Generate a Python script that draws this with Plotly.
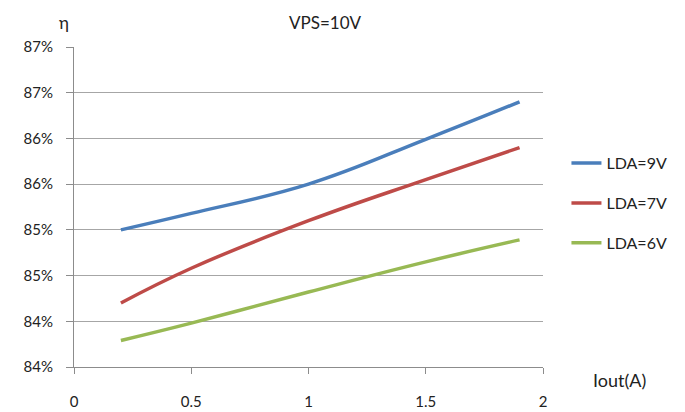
import plotly.graph_objects as go

iout = [0.2, 0.5, 1.0, 1.5, 1.9]
eff_9v = [85.00, 85.18, 85.50, 85.99, 86.40]
eff_7v = [84.20, 84.58, 85.10, 85.55, 85.90]
eff_6v = [83.79, 83.98, 84.32, 84.65, 84.89]

series_names = ["LDA=9V", "LDA=7V", "LDA=6V"]
series_vals = [eff_9v, eff_7v, eff_6v]
colors = ["#4a7ebb", "#be4b48", "#98b954"]

y_ticks = [83.5, 84.0, 84.5, 85.0, 85.5, 86.0, 86.5, 87.0]
y_ticktext = ["84%", "84%", "85%", "85%", "86%", "86%", "87%", "87%"]
x_ticks = [0, 0.5, 1, 1.5, 2]
x_ticktext = ["0", "0.5", "1", "1.5", "2"]

FONT = "Lato"
TXT = "#222222"

fig = go.Figure()
for name, vals, c in zip(series_names, series_vals, colors):
    fig.add_trace(go.Scatter(
        x=iout, y=vals, name=name, mode="lines",
        line=dict(color=c, width=3.5, shape="spline", smoothing=1.2),
        legendgroup=name,
    ))

fig.update_layout(
    width=677, height=404,
    margin=dict(l=66, r=142, t=39, b=45, autoexpand=False),
    paper_bgcolor="white", plot_bgcolor="white",
    font=dict(family=FONT, size=15, color=TXT),
    showlegend=True,
    legend=dict(
        x=1.05, y=0.69, xanchor="left", yanchor="top",
        font=dict(family=FONT, size=16, color=TXT),
        tracegroupgap=16, bgcolor="rgba(0,0,0,0)",
    ),
    xaxis=dict(
        range=[0, 2], tickvals=x_ticks, ticktext=x_ticktext,
        showgrid=False, zeroline=False, automargin=False,
        showline=True, linecolor="#8c8c8c", linewidth=1,
        ticks="outside", ticklen=6, tickcolor="#8c8c8c",
        ticklabelstandoff=15,
        tickfont=dict(family=FONT, size=15, color=TXT),
    ),
    yaxis=dict(
        range=[83.5, 87.0], tickvals=y_ticks, ticktext=y_ticktext,
        showgrid=True, gridcolor="#a6a6a6", gridwidth=1,
        zeroline=False, automargin=False,
        showline=True, linecolor="#8c8c8c", linewidth=1,
        ticks="outside", ticklen=7, tickcolor="#8c8c8c",
        ticklabelstandoff=10,
        tickfont=dict(family=FONT, size=15, color=TXT),
    ),
    annotations=[
        dict(text="VPS=10V", xref="paper", yref="paper", x=0.536, y=1.0,
             yshift=25, showarrow=False, xanchor="center", yanchor="middle",
             font=dict(family=FONT, size=17, color=TXT)),
        dict(text="η", xref="paper", yref="paper", x=-0.022, y=1.0,
             yshift=25, showarrow=False, xanchor="center", yanchor="middle",
             font=dict(family=FONT, size=17, color=TXT)),
        dict(text="Iout(A)", xref="paper", yref="paper", x=1.0, y=0.0,
             xshift=76, yshift=-13, showarrow=False, xanchor="center", yanchor="middle",
             font=dict(family=FONT, size=18, color=TXT)),
    ],
)

fig.write_html("out.html")
